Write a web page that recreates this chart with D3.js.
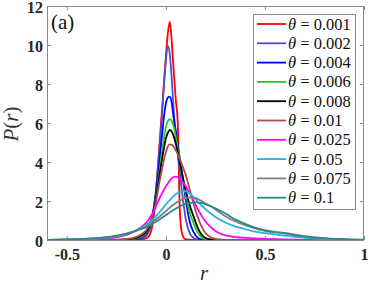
<!DOCTYPE html>
<html><head><meta charset="utf-8">
<script src="https://cdn.jsdelivr.net/npm/d3@7"></script>
<style>
body{margin:0;background:#fff;}
svg{display:block;}
</style></head>
<body>
<svg id="chart" width="374" height="286"></svg>
<script>
const rGrid = [-0.6,-0.5,-0.4,-0.3,-0.25,-0.2,-0.16,-0.13,-0.1,-0.09,-0.08,-0.07,-0.06,-0.05,-0.04,-0.03,-0.02,-0.01,0,0.01,0.02,0.03,0.04,0.05,0.06,0.07,0.08,0.09,0.1,0.12,0.14,0.16,0.18,0.2,0.23,0.26,0.3,0.35,0.4,0.45,0.5,0.6,0.7,0.8,0.9,1.0];

const thetaLabels = ["0.001","0.002","0.004","0.006","0.008","0.01","0.025","0.05","0.075","0.1"];

const p0001 = [0,0,0,0,0,0.005,0.01,0.03, 0.08,0.15,0.3,0.65,1.3,2.4,3.8,5.2,6.6,8.0, 9.4,10.6,11.2,10.1,8.6,7.2,6.0,1.6,0.4,0.12,0.04, 0.01,0,0,0,0, 0,0,0,0,0,0,0, 0,0,0,0,0];
const p0002 = [0,0,0,0,0.005,0.01,0.02,0.06, 0.2,0.35,0.6,1.0,1.7,2.6,3.7,5.0,6.4,7.9, 9.2,9.96,9.5,8.2,6.6,5.4,4.4,3.5,2.6,1.8,1.1, 0.35,0.1,0.03,0.01,0, 0,0,0,0,0,0,0, 0,0,0,0,0];
const p0004 = [0,0,0,0.005,0.01,0.02,0.04,0.1, 0.3,0.45,0.7,1.1,1.7,2.4,3.3,4.3,5.3,6.3, 7.0,7.3,7.35,7.0,6.2,5.6,4.9,4.2,3.5,2.8,2.1, 0.95,0.4,0.12,0.03,0.01, 0,0,0,0,0,0,0, 0,0,0,0,0];
const p0006 = [0,0,0,0.005,0.01,0.02,0.06,0.15, 0.35,0.5,0.75,1.1,1.6,2.2,2.9,3.7,4.5,5.2, 5.8,6.1,6.2,6.1,5.8,5.3,4.7,4.1,3.5,2.9,2.35, 1.45,0.85,0.4,0.14,0.04, 0,0,0,0,0,0,0, 0,0,0,0,0];
const p0008 = [0,0,0,0.005,0.01,0.03,0.08,0.2, 0.4,0.55,0.8,1.15,1.6,2.15,2.8,3.45,4.1,4.7, 5.2,5.5,5.64,5.55,5.3,4.95,4.5,4.0,3.5,3.0,2.55, 1.8,1.2,0.65,0.28,0.1, 0.02,0,0,0,0,0,0, 0,0,0,0,0];
const p001  = [0,0,0,0.01,0.02,0.05,0.12,0.25, 0.5,0.65,0.85,1.15,1.5,1.95,2.55,3.1,3.6,4.1, 4.5,4.8,4.9,4.88,4.78,4.6,4.4,4.15,3.9,3.62,3.35, 2.6,1.85,1.2,0.7,0.36, 0.12,0.04,0.01,0,0,0,0, 0,0,0,0,0];
const p0025 = [0,0.01,0.03,0.08,0.14,0.26,0.42,0.62, 0.88,1.0,1.15,1.32,1.52,1.74,1.96,2.18,2.38,2.57, 2.75,2.9,3.05,3.17,3.23,3.25,3.22,3.14,3.03,2.9,2.76, 2.4,2.0,1.6,1.25,0.95, 0.62,0.4,0.24,0.15,0.11,0.08,0.06, 0.03,0.01,0,0,0];
const p005  = [0.01,0.02,0.05,0.11,0.18,0.3,0.45,0.6, 0.78,0.85,0.93,1.02,1.12,1.22,1.33,1.45,1.57,1.7, 1.82,1.94,2.05,2.16,2.26,2.35,2.42,2.47,2.5,2.51,2.5, 2.4,2.2,1.98,1.77,1.58, 1.33,1.12,0.9,0.7,0.56,0.43,0.35, 0.22,0.11,0.05,0.02,0.01];
const p0075 = [0.01,0.03,0.06,0.13,0.2,0.32,0.45,0.57, 0.72,0.78,0.84,0.91,0.98,1.06,1.14,1.22,1.31,1.4, 1.48,1.57,1.66,1.74,1.82,1.9,1.96,2.02,2.08,2.12,2.16, 2.19,2.18,2.11,2.0,1.88, 1.7,1.5,1.22,0.95,0.76,0.6,0.47, 0.33,0.16,0.07,0.03,0.01];
const p01   = [0.01,0.03,0.07,0.15,0.22,0.33,0.44,0.54, 0.66,0.71,0.76,0.82,0.88,0.94,1.0,1.07,1.14,1.21, 1.28,1.35,1.42,1.49,1.55,1.61,1.67,1.72,1.77,1.81,1.85, 1.9,1.93,1.93,1.9,1.84, 1.72,1.57,1.36,1.06,0.83,0.64,0.5, 0.36,0.2,0.1,0.04,0.015];

const seriesValues = [p0001,p0002,p0004,p0006,p0008,p001,p0025,p005,p0075,p01];
const seriesColors = ["#ff0000","#5050c8","#0000ff","#22cc22","#000000","#b04a4a","#ff00ff","#20b4e6","#808080","#2a8a8a"];

const xTicks = [-0.5,0,0.5,1];
const yTicks = [0,2,4,6,8,10,12];

const svg = d3.select("#chart");
const L=47, R=364, T=6, B=240;
const x = d3.scaleLinear().domain([-0.6,1]).range([L,R]);
const y = d3.scaleLinear().domain([0,12]).range([B,T]);

svg.append("defs").append("clipPath").attr("id","clip")
  .append("rect").attr("x",L).attr("y",T).attr("width",R-L).attr("height",B-T);

const axisColor = "#8a8a8a";
const fam = "Liberation Serif";

function styleAxis(g, showText){
  g.attr("font-family",fam);
  g.select(".domain").remove();
  g.selectAll(".tick line").attr("stroke",axisColor);
  g.selectAll(".tick text").attr("fill","#262626").attr("font-family",fam)
    .attr("font-weight","bold").attr("font-size",16);
  if(!showText) g.selectAll(".tick text").remove();
}

svg.append("g").attr("transform",`translate(0,${B})`)
  .call(d3.axisBottom(x).tickValues(xTicks).tickFormat(d=>d).tickSizeInner(-4).tickSizeOuter(0).tickPadding(9))
  .call(g=>styleAxis(g,true));
svg.append("g").attr("transform",`translate(0,${T})`)
  .call(d3.axisTop(x).tickValues(xTicks).tickSizeInner(-4).tickSizeOuter(0))
  .call(g=>styleAxis(g,false));
svg.append("g").attr("transform",`translate(${L},0)`)
  .call(d3.axisLeft(y).tickValues(yTicks).tickSizeInner(-4).tickSizeOuter(0).tickPadding(4))
  .call(g=>{styleAxis(g,true); g.selectAll(".tick text").attr("dy","0.4em");});
svg.append("g").attr("transform",`translate(${R},0)`)
  .call(d3.axisRight(y).tickValues(yTicks).tickSizeInner(-4).tickSizeOuter(0))
  .call(g=>styleAxis(g,false));

const line = d3.line().x(d=>x(d[0])).y(d=>y(d[1])).curve(d3.curveMonotoneX);
const plot = svg.append("g").attr("clip-path","url(#clip)");
seriesValues.forEach((vals,i)=>{
  plot.append("path").datum(rGrid.map((r,j)=>[r,vals[j]]))
    .attr("fill","none").attr("stroke",seriesColors[i]).attr("stroke-width",1.8)
    .attr("stroke-linejoin","round").attr("d",line);
});

// box
svg.append("rect").attr("x",L+0.5).attr("y",T+0.5).attr("width",R-L-1).attr("height",B-T)
  .attr("fill","none").attr("stroke",axisColor).attr("stroke-width",1);

// panel label
svg.append("text").attr("x",51).attr("y",29).attr("font-family",fam)
  .attr("font-size",21).attr("fill","#111").text("(a)");

// axis labels
svg.append("text").attr("x",204).attr("y",280).attr("text-anchor","middle")
  .attr("font-family",fam).attr("font-style","italic").attr("font-size",21).attr("fill","#333").text("r");
svg.append("text").attr("transform","translate(18,124) rotate(-90)").attr("text-anchor","middle")
  .attr("font-family",fam).attr("font-size",21).attr("fill","#333")
  .call(t=>{
    t.append("tspan").attr("font-style","italic").text("P");
    t.append("tspan").text("(");
    t.append("tspan").attr("font-style","italic").text("r");
    t.append("tspan").text(")");
  });

// legend
const lg = svg.append("g");
lg.append("rect").attr("x",253.5).attr("y",14.5).attr("width",102).attr("height",195)
  .attr("fill","#fff").attr("stroke",axisColor).attr("stroke-width",1);
thetaLabels.forEach((lab,i)=>{
  const yy = 24 + i*19.3;
  lg.append("line").attr("x1",257).attr("x2",286).attr("y1",yy).attr("y2",yy)
    .attr("stroke",seriesColors[i]).attr("stroke-width",1.8);
  const t = lg.append("text").attr("x",288).attr("y",yy+5.5)
    .attr("font-family",fam).attr("font-size",16.5).attr("fill","#111");
  t.append("tspan").attr("font-style","italic").text("θ");
  t.append("tspan").text(" = " + lab);
});
</script>
</body></html>
